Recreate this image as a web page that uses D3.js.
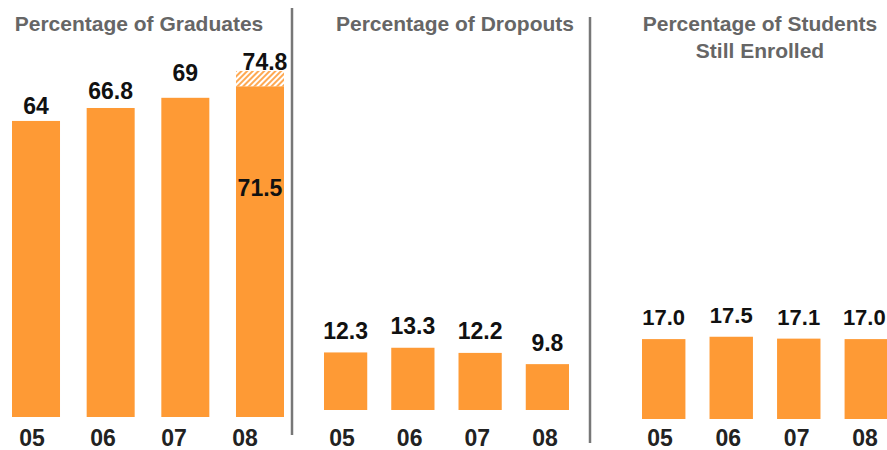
<!DOCTYPE html>
<html>
<head>
<meta charset="utf-8">
<script src="https://cdn.jsdelivr.net/npm/d3@7"></script>
<style>
  html, body { margin: 0; padding: 0; background: #fff; }
  svg { display: block; font-family: "Liberation Sans", Arial, sans-serif; }
</style>
</head>
<body>
<svg id="chart" width="887" height="450"></svg>
<script>
// ---- data ----
const years = ["05", "06", "07", "08"];
const graduates = [64, 66.8, 69, 71.5];
const graduatesAdjusted = 74.8;          // hatched extension on the 2008 bar
const dropouts = [12.3, 13.3, 12.2, 9.8];
const stillEnrolled = [17.0, 17.5, 17.1, 17.0];
const titles = [
  ["Percentage of Graduates"],
  ["Percentage of Dropouts"],
  ["Percentage of Students", "Still Enrolled"]
];

// ---- layout / style ----
const ORANGE = "#FE9A35";
const svg = d3.select("#chart");

const defs = svg.append("defs");
const pat = defs.append("pattern")
  .attr("id", "hatch").attr("patternUnits", "userSpaceOnUse")
  .attr("width", 4).attr("height", 4)
  .attr("patternTransform", "rotate(45)");
pat.append("rect").attr("width", 4).attr("height", 4).attr("fill", "#fff");
pat.append("rect").attr("width", 2).attr("height", 4).attr("fill", ORANGE).attr("opacity", 0.85);

const panels = [
  { values: graduates, fmt: d => String(d), x0: 12, x1: 284, base: 417, ppu: 4.626,
    labX: [32, 245], titleX: 139, labelGap: [7, 9, 17, 8], fs: 23, dx: [0, 0, 0, 0] },
  { values: dropouts, fmt: d3.format(".1f"), x0: 324, x1: 569, base: 410, ppu: 4.68,
    labX: [342, 545], titleX: 455, labelGap: [13, 14, 14, 13], fs: 23, dx: [0, 0, 0, 0] },
  { values: stillEnrolled, fmt: d3.format(".1f"), x0: 642, x1: 888, base: 419, ppu: 4.7,
    labX: [660, 865], titleX: 760, labelGap: [14, 14, 14, 14], fs: 22, dx: [0, 0, 0, -2] }
];

panels.forEach((p, i) => {
  const g = svg.append("g");
  const x = d3.scaleBand().domain(years).range([p.x0, p.x1])
    .paddingInner(0.357).paddingOuter(0);
  const y = d3.scaleLinear().domain([0, 100]).range([p.base, p.base - 100 * p.ppu]);
  const xl = d3.scalePoint().domain(years).range(p.labX);

  // bars
  g.selectAll("rect.bar").data(p.values).join("rect")
    .attr("class", "bar")
    .attr("x", (d, j) => x(years[j]))
    .attr("width", x.bandwidth())
    .attr("y", d => y(d))
    .attr("height", d => y(0) - y(d))
    .attr("fill", ORANGE);

  // value labels
  g.selectAll("text.val").data(p.values).join("text")
    .attr("class", "val")
    .attr("x", (d, j) => x(years[j]) + x.bandwidth() / 2 + p.dx[j])
    .attr("y", (d, j) => y(d) - p.labelGap[j])
    .attr("text-anchor", "middle")
    .attr("font-size", p.fs).attr("font-weight", "bold").attr("fill", "#111")
    .text((d, j) => (i === 0 && j === 3) ? "" : p.fmt(d));

  if (i === 0) {
    const last = years[3];
    // hatched extension
    g.append("rect")
      .attr("x", x(last)).attr("width", x.bandwidth())
      .attr("y", y(graduatesAdjusted))
      .attr("height", y(graduates[3]) - y(graduatesAdjusted))
      .attr("fill", "url(#hatch)");
    g.append("text")
      .attr("x", x(last) + x.bandwidth() / 2 + 5)
      .attr("y", y(graduatesAdjusted) - 1)
      .attr("text-anchor", "middle")
      .attr("font-size", 23).attr("font-weight", "bold").attr("fill", "#111")
      .text(String(graduatesAdjusted));
    g.append("text")
      .attr("x", x(last) + x.bandwidth() / 2)
      .attr("y", 196)
      .attr("text-anchor", "middle")
      .attr("font-size", 23).attr("font-weight", "bold").attr("fill", "#111")
      .text(String(graduates[3]));
  }

  // category labels
  g.selectAll("text.cat").data(years).join("text")
    .attr("class", "cat")
    .attr("x", d => xl(d))
    .attr("y", 446)
    .attr("text-anchor", "middle")
    .attr("font-size", 23).attr("font-weight", "bold").attr("fill", "#222")
    .text(d => d);

  // title
  const t = g.append("text")
    .attr("x", p.titleX).attr("y", 31)
    .attr("text-anchor", "middle")
    .attr("font-size", 21).attr("font-weight", "bold").attr("fill", "#666");
  titles[i].forEach((line, k) => {
    t.append("tspan").attr("x", p.titleX).attr("dy", k === 0 ? 0 : 27).text(line);
  });
});

// dividers
svg.append("line").attr("x1", 292).attr("x2", 292).attr("y1", 8).attr("y2", 435)
  .attr("stroke", "#777").attr("stroke-width", 2.5);
svg.append("line").attr("x1", 590).attr("x2", 590).attr("y1", 17).attr("y2", 443)
  .attr("stroke", "#777").attr("stroke-width", 2.5);
</script>
</body>
</html>
